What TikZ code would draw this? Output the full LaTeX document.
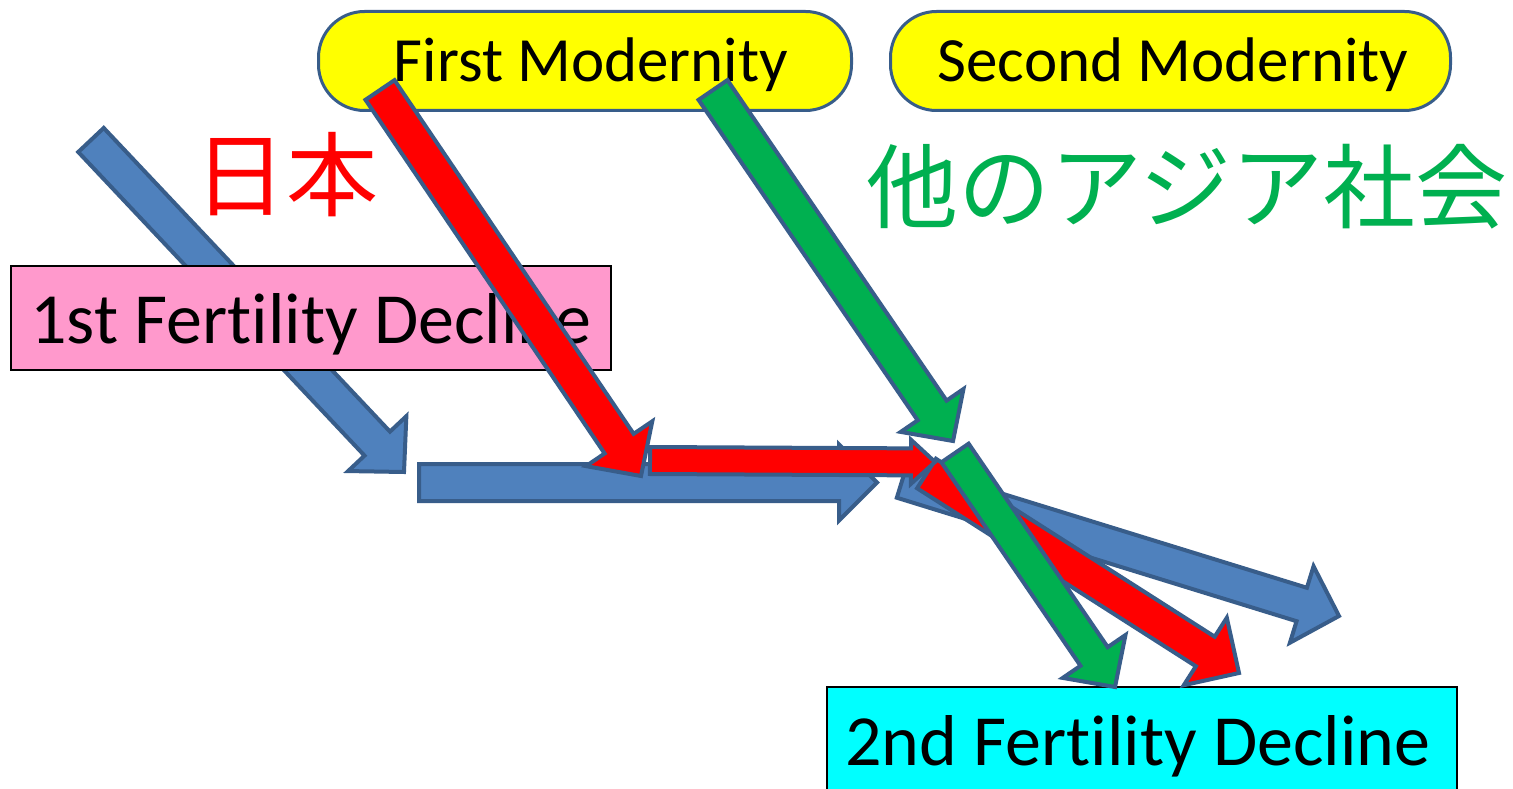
\documentclass[tikz,border=0pt]{standalone}
\usepackage{fontspec}
\setmainfont{Carlito}[Ligatures=NoCommon, RawFeature={-calt;-clig;-dlig}]
\newfontfamily\cjk{Noto Sans CJK JP}
\usetikzlibrary{calc}
\definecolor{edgeblue}{RGB}{56,93,138}
\definecolor{fillblue}{RGB}{79,129,189}
\definecolor{myred}{RGB}{255,0,0}
\definecolor{mygreen}{RGB}{0,176,80}
\definecolor{myyellow}{RGB}{255,255,0}
\definecolor{mypink}{RGB}{255,153,204}
\definecolor{mycyan}{RGB}{0,255,255}
\tikzset{
  blockarr/.style={draw=edgeblue, line width=4pt, line join=miter},
  bluearr/.style={blockarr, fill=fillblue},
  redarr/.style={blockarr, fill=myred},
  greenarr/.style={blockarr, fill=mygreen},
  modbox/.style={draw=edgeblue, line width=3pt, fill=myyellow, rounded corners=46pt},
  declbox/.style={draw=black, line width=1.2pt},
  boxtext/.style={inner sep=0pt, text=black},
}
% #1 style, #2 tail, #3 tip, #4 shaft half width, #5 head half width, #6 head length
\newcommand\myblockarrow[6]{%
  \coordinate (neck) at ($(#3)!#6pt!(#2)$);
  \draw[#1] ($(#2)!#4pt!90:(#3)$) -- ($(neck)!#4pt!90:(#3)$) -- ($(neck)!#5pt!90:(#3)$)
    -- (#3) -- ($(neck)!#5pt!-90:(#3)$) -- ($(neck)!#4pt!-90:(#3)$) -- ($(#2)!#4pt!-90:(#3)$) -- cycle;
}
\begin{document}
\begin{tikzpicture}[x=1pt,y=-1pt]
\useasboundingbox (0,0) rectangle (1513,789);
\fill[white] (0,0) rectangle (1513,789);

% yellow modernity boxes
\draw[modbox] (318.5,11.5) rectangle (851.5,110.5);
\draw[modbox] (890.5,11.5) rectangle (1450.5,110.5);
\node[boxtext, anchor=base, font=\fontsize{63}{70}\selectfont] (fm) at (591,82) {First Modernity};
\node[boxtext, anchor=base, font=\fontsize{63}{70}\selectfont] (sm) at (1173,82) {Second Modernity};

% coordinates of arrows
\coordinate (b1t) at (91,140);   \coordinate (b1h) at (404,472);
\coordinate (b2t) at (419,482.5); \coordinate (b2h) at (877,482.5);
\coordinate (b3t) at (902,481);  \coordinate (b3h) at (1339,616);
\coordinate (r1t) at (380,90);   \coordinate (r1h) at (641,476);
\coordinate (r2t) at (650,460.5); \coordinate (r2h) at (935,462);
\coordinate (r3t) at (926.5,473.5); \coordinate (r3h) at (1239,673);
\coordinate (g1t) at (713,90);   \coordinate (g1h) at (953,441);
\coordinate (g2t) at (955,453);  \coordinate (g2h) at (1115,687);

% cyan box
\draw[declbox, fill=mycyan] (827,687) rectangle (1457,800);
\node[boxtext, anchor=base west, font=\fontsize{72}{80}\selectfont] (sfd) at (845,765) {2nd Fert\kern0pt ility Decline};

% blue arrow 1 behind pink box
\myblockarrow{bluearr}{b1t}{b1h}{17.5}{40}{39}
\draw[declbox, fill=mypink] (11,266) rectangle (611,370);
\node[boxtext, anchor=base west, font=\fontsize{72}{80}\selectfont] (ffd) at (30,343) {1st Fert\kern0pt ility Decline};

% other arrows
\myblockarrow{bluearr}{b2t}{b2h}{18.5}{38}{38}
\myblockarrow{bluearr}{b3t}{b3h}{17.5}{40}{39}
\myblockarrow{redarr}{r1t}{r1h}{17.5}{40}{39}
\myblockarrow{redarr}{r3t}{r3h}{17.5}{40}{40}
\myblockarrow{redarr}{r2t}{r2h}{13.5}{22}{24}
\myblockarrow{greenarr}{g1t}{g1h}{17.5}{38}{37}
\myblockarrow{greenarr}{g2t}{g2h}{16.5}{38}{37}

% labels
\node[inner sep=0pt, text=myred, font=\cjk\fontsize{92}{100}\selectfont] (jp) at (286,175) {日本};
\node[inner sep=0pt, text=mygreen, font=\cjk\fontsize{92}{100}\selectfont] (asia) at (1187,187) {他のアジア社会};
\end{tikzpicture}
\end{document}
